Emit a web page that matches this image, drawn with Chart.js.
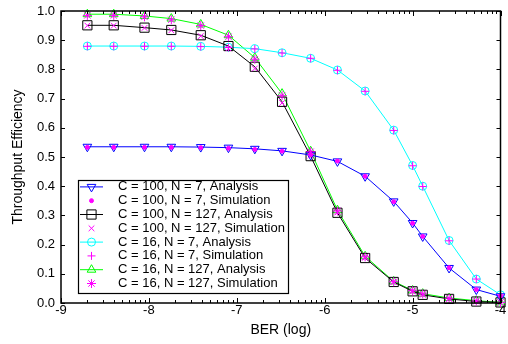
<!DOCTYPE html>
<html><head><meta charset="utf-8">
<script src="https://cdn.jsdelivr.net/npm/chart.js@4.4.1/dist/chart.umd.min.js"></script>
<style>html,body{margin:0;padding:0;background:#fff;}canvas{display:block;}</style>
</head><body>
<canvas id="c" width="508" height="344"></canvas>
<script>
// ---- data (x = log10(BER)) ----
const berLog = [-8.70, -8.40, -8.05, -7.745, -7.41, -7.095, -6.795, -6.485, -6.16, -5.855, -5.54, -5.215, -5.0, -4.885, -4.585, -4.275, -4.0];
const xTickLabels = ['-9', '-8', '-7', '-6', '-5', '-4'];
const yTickLabels = ['0.0', '0.1', '0.2', '0.3', '0.4', '0.5', '0.6', '0.7', '0.8', '0.9', '1.0'];
const seriesNames = [
  'C = 100, N = 7, Analysis', 'C = 100, N = 7, Simulation',
  'C = 100, N = 127, Analysis', 'C = 100, N = 127, Simulation',
  'C = 16, N = 7, Analysis', 'C = 16, N = 7, Simulation',
  'C = 16, N = 127, Analysis', 'C = 16, N = 127, Simulation'
];
const anaC100N7   = [0.535, 0.535, 0.535, 0.535, 0.534, 0.532, 0.528, 0.521, 0.507, 0.485, 0.434, 0.348, 0.274, 0.228, 0.120, 0.046, 0.023];
const simC100N7   = [0.533, 0.533, 0.533, 0.533, 0.532, 0.530, 0.526, 0.520, 0.508, 0.486, 0.434, 0.347, 0.273, 0.228, 0.121, 0.046, 0.023];
const anaC100N127 = [0.951, 0.951, 0.943, 0.935, 0.917, 0.880, 0.809, 0.689, 0.503, 0.309, 0.154, 0.072, 0.040, 0.028, 0.014, 0.005, 0.002];
const simC100N127 = [0.950, 0.950, 0.942, 0.934, 0.914, 0.872, 0.803, 0.685, 0.505, 0.310, 0.155, 0.072, 0.040, 0.028, 0.014, 0.005, 0.002];
const anaC16N7    = [0.880, 0.880, 0.880, 0.880, 0.879, 0.876, 0.871, 0.857, 0.838, 0.798, 0.726, 0.592, 0.471, 0.400, 0.214, 0.082, 0.028];
const simC16N7    = [0.879, 0.879, 0.879, 0.879, 0.878, 0.875, 0.870, 0.856, 0.838, 0.797, 0.725, 0.591, 0.470, 0.399, 0.213, 0.082, 0.028];
const anaC16N127  = [0.989, 0.989, 0.983, 0.974, 0.954, 0.917, 0.840, 0.717, 0.520, 0.318, 0.160, 0.074, 0.043, 0.032, 0.017, 0.008, 0.002];
const simC16N127  = [0.985, 0.985, 0.980, 0.970, 0.950, 0.912, 0.835, 0.710, 0.518, 0.315, 0.158, 0.073, 0.042, 0.031, 0.016, 0.007, 0.002];

const FONT = "'Liberation Sans', Arial, Helvetica, sans-serif";
const MAG = 'rgb(255,0,255)';
const NONE = 'rgba(0,0,0,0)';

function pts(arr) { return berLog.map((x, i) => ({ x: x, y: arr[i] })); }
function ana(label, arr, color, style, radius, rot) {
  return { label, data: pts(arr), showLine: true, borderColor: color, backgroundColor: NONE,
    borderWidth: 1, pointStyle: style, pointRadius: radius, pointRotation: rot || 0,
    pointBorderColor: color, pointBackgroundColor: NONE, pointBorderWidth: 1,
    tension: 0, clip: false, order: 1 };
}
function sim(label, arr, style, radius, fill) {
  return { label, data: pts(arr), showLine: false, borderColor: MAG, backgroundColor: fill ? MAG : NONE,
    borderWidth: 1, pointStyle: style, pointRadius: radius, pointRotation: 0,
    pointBorderColor: MAG, pointBackgroundColor: fill ? MAG : NONE, pointBorderWidth: 1,
    clip: false, order: 0 };
}

const datasets = [
  ana(seriesNames[0], anaC100N7, 'rgb(0,0,255)', 'triangle', 5, 180),
  sim(seriesNames[1], simC100N7, 'circle', 2, true),
  ana(seriesNames[2], anaC100N127, '#000000', 'rect', 6.5, 0),
  sim(seriesNames[3], simC100N127, 'crossRot', 4, false),
  ana(seriesNames[4], anaC16N7, 'rgb(0,255,255)', 'circle', 4, 0),
  sim(seriesNames[5], simC16N7, 'cross', 4, false),
  ana(seriesNames[6], anaC16N127, 'rgb(0,255,0)', 'triangle', 5, 0),
  sim(seriesNames[7], simC16N127, 'star', 4.5, false)
];

function drawMarker(ctx, ds, x, y) {
  ctx.strokeStyle = ds.pointBorderColor;
  ctx.fillStyle = ds.pointBackgroundColor;
  ctx.lineWidth = ds.pointBorderWidth;
  if (Chart.helpers && Chart.helpers.drawPoint) {
    Chart.helpers.drawPoint(ctx, { pointStyle: ds.pointStyle, radius: ds.pointRadius,
      rotation: ds.pointRotation, borderWidth: ds.pointBorderWidth }, x, y);
  } else {
    ctx.beginPath(); ctx.arc(x, y, ds.pointRadius, 0, Math.PI * 2); ctx.fill(); ctx.stroke();
  }
}

const framePlugin = {
  id: 'frame',
  afterDatasetsDraw(chart) {
    const { ctx, chartArea: a, scales } = chart;
    const xs = scales.x, ys = scales.y;
    ctx.save();
    // inward ticks
    ctx.strokeStyle = '#000'; ctx.lineWidth = 1;
    ctx.beginPath();
    const majors = xTickLabels.map(Number);
    majors.forEach((d, i) => {
      const p = Math.round(xs.getPixelForValue(d)) + 0.5;
      ctx.moveTo(p, a.bottom); ctx.lineTo(p, a.bottom - 5);
      ctx.moveTo(p, a.top); ctx.lineTo(p, a.top + 5);
      if (i < majors.length - 1) {
        for (let k = 2; k <= 9; k++) {
          const q = Math.round(xs.getPixelForValue(d + Math.log10(k))) + 0.5;
          ctx.moveTo(q, a.bottom); ctx.lineTo(q, a.bottom - 3);
          ctx.moveTo(q, a.top); ctx.lineTo(q, a.top + 3);
        }
      }
    });
    yTickLabels.forEach((t) => {
      const p = Math.round(ys.getPixelForValue(Number(t))) + 0.5;
      ctx.moveTo(a.left, p); ctx.lineTo(a.left + 4, p);
      ctx.moveTo(a.right, p); ctx.lineTo(a.right - 4, p);
    });
    ctx.stroke();
    ctx.lineWidth = 1.5;
    ctx.strokeRect(a.left, a.top, a.right - a.left, a.bottom - a.top);

    // legend
    const bx = 78.5, by = 180.5, bw = 210, bh = 113;
    ctx.fillStyle = '#fff';
    ctx.fillRect(bx, by, bw, bh);
    ctx.strokeStyle = '#000'; ctx.lineWidth = 1.2;
    ctx.strokeRect(bx, by, bw, bh);
    ctx.font = '13px ' + FONT;
    ctx.textBaseline = 'middle';
    ctx.textAlign = 'left';
    datasets.forEach((ds, i) => {
      const yy = 186.9 + i * 13.8;
      if (ds.showLine) {
        ctx.strokeStyle = ds.borderColor; ctx.lineWidth = 1;
        ctx.beginPath(); ctx.moveTo(80, yy); ctx.lineTo(103, yy); ctx.stroke();
      }
      drawMarker(ctx, ds, 91.5, yy);
      ctx.fillStyle = '#000';
      ctx.fillText(ds.label, 118, yy);
    });
    ctx.restore();
  }
};

Chart.defaults.font.family = FONT;
Chart.defaults.color = '#000';

new Chart(document.getElementById('c'), {
  type: 'line',
  data: { datasets },
  options: {
    responsive: false,
    animation: false,
    events: [],
    layout: { padding: { left: 0, right: 3, top: 11, bottom: 0 } },
    plugins: { legend: { display: false }, tooltip: { enabled: false } },
    scales: {
      x: {
        type: 'linear', min: -9, max: -4,
        grid: { display: false, drawTicks: false },
        border: { display: false },
        ticks: { stepSize: 1, padding: 0, color: '#000', maxRotation: 0, autoSkip: false,
          font: { size: 13, family: FONT },
          callback: (v) => { const i = Math.round(v) + 9; return xTickLabels[i] !== undefined ? xTickLabels[i] : ''; } },
        title: { display: true, text: 'BER (log)', color: '#000', font: { size: 14, family: FONT },
          padding: { top: 0, bottom: 5.6 } },
        afterFit(s) { s.height = 41; s.paddingLeft = 0; s.paddingRight = 0; }
      },
      y: {
        type: 'linear', min: 0, max: 1,
        grid: { display: false, drawTicks: false },
        border: { display: false },
        ticks: { stepSize: 0.1, padding: 6, color: '#000', font: { size: 13, family: FONT },
          callback: (v) => { const i = Math.round(v * 10); return yTickLabels[i] !== undefined ? yTickLabels[i] : ''; } },
        title: { display: true, text: 'Throughput Efficiency', color: '#000', font: { size: 14, family: FONT },
          padding: { top: 10, bottom: 0 } },
        afterFit(s) { s.width = 61; s.paddingTop = 0; s.paddingBottom = 0; }
      }
    }
  },
  plugins: [framePlugin]
});
</script>
</body></html>
